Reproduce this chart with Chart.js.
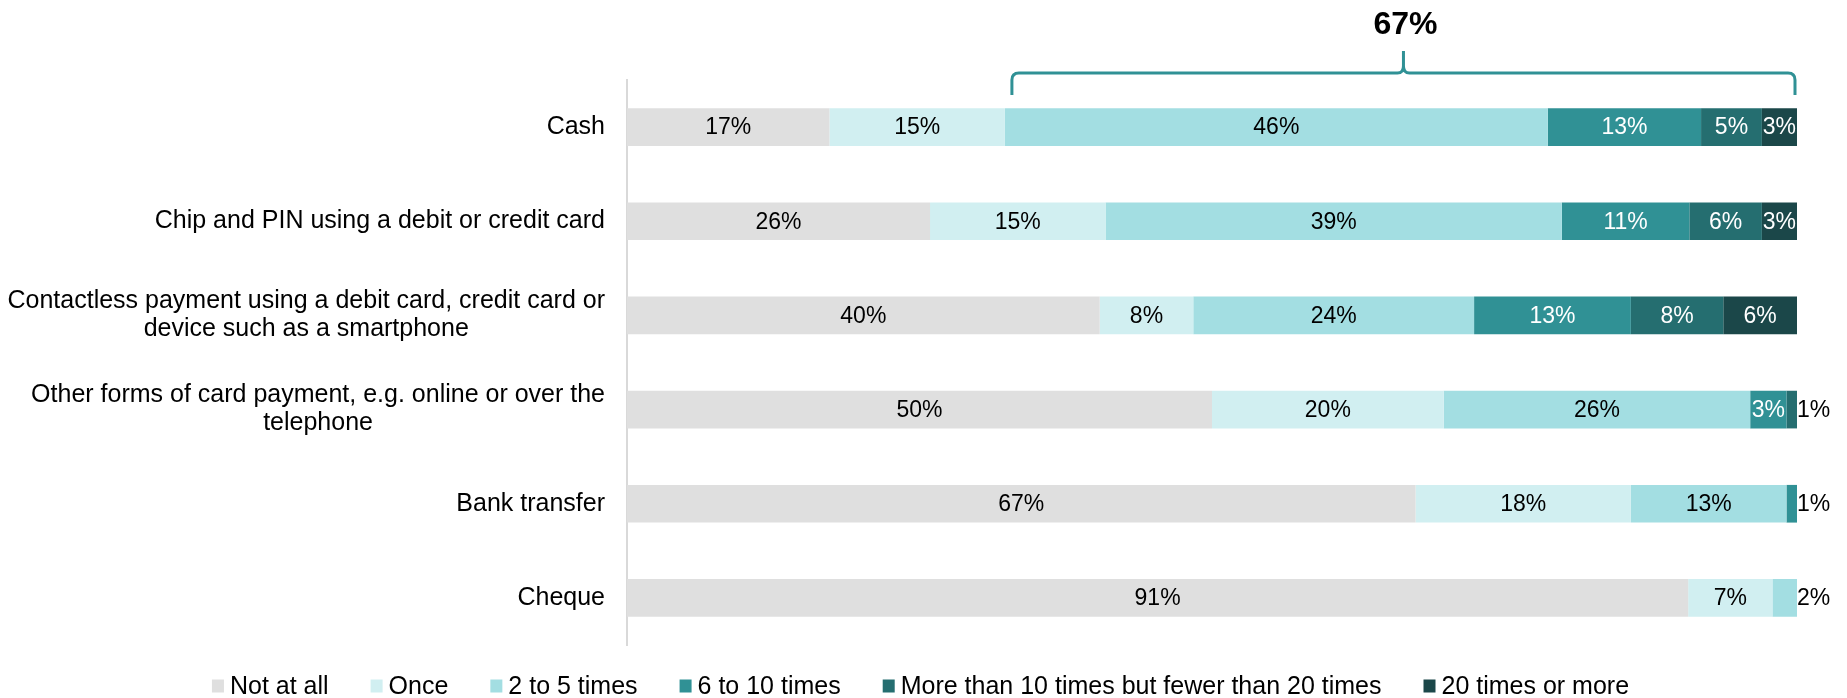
<!DOCTYPE html>
<html>
<head>
<meta charset="utf-8">
<script src="https://cdn.jsdelivr.net/npm/chart.js@4.4.1/dist/chart.umd.min.js"></script>
<style>
  body { margin: 0; background: #fff; }
  canvas { display: block; }
</style>
</head>
<body>
<canvas id="chart" width="1847" height="698"></canvas>
<script>
const FONT = '"Liberation Sans", Arial, sans-serif';

const categories = [
  ["Cash"],
  ["Chip and PIN using a debit or credit card"],
  ["Contactless payment using a debit card, credit card or", "device such as a smartphone"],
  ["Other forms of card payment, e.g. online or over the", "telephone"],
  ["Bank transfer"],
  ["Cheque"]
];

const seriesNames = [
  "Not at all",
  "Once",
  "2 to 5 times",
  "6 to 10 times",
  "More than 10 times but fewer than 20 times",
  "20 times or more"
];
const seriesColors = ["#dfdfdf", "#d1eff1", "#a3dee2", "#309195", "#256e70", "#1b4749"];

// values (each row adds up to 100)
const notAtAll    = [17.3, 25.9, 40.4, 50.0, 67.4, 90.7];
const once        = [15.0, 15.0,  8.0, 19.8, 18.4,  7.2];
const twoToFive   = [46.4, 39.0, 24.0, 26.2, 13.3,  2.1];
const sixToTen    = [13.1, 10.9, 13.4,  3.1,  0.9,  0];
const moreThanTen = [ 5.2,  6.2,  7.9,  0.9,  0,    0];
const twentyPlus  = [ 3.0,  3.0,  6.3,  0,    0,    0];

const series = [notAtAll, once, twoToFive, sixToTen, moreThanTen, twentyPlus];

// the bracket over the first row covers "2 to 5 times" and above
const bracketRow = 0;
const bracketFrom = 2;

function pct(v) {
  return Math.round(v) + "%";
}

const segmentLabels = {
  id: "segmentLabels",
  afterDatasetsDraw(chart) {
    const ctx = chart.ctx;
    ctx.save();
    ctx.font = "23px " + FONT;
    ctx.textBaseline = "middle";
    chart.data.datasets.forEach((ds, i) => {
      const meta = chart.getDatasetMeta(i);
      meta.data.forEach((bar, j) => {
        const v = ds.data[j];
        if (!v) return;
        const { x, base, y } = bar.getProps(["x", "base", "y"], true);
        const isLast = series.slice(i + 1).every((s) => !s[j]);
        if (isLast && v < 2.5) {
          ctx.fillStyle = "#000";
          ctx.textAlign = "left";
          ctx.fillText(pct(v), x, y + 1);
        } else {
          ctx.fillStyle = i >= 3 ? "#fff" : "#000";
          ctx.textAlign = "center";
          ctx.fillText(pct(v), (x + base) / 2, y + 1);
        }
      });
    });
    ctx.restore();
  }
};

const categoryLabels = {
  id: "categoryLabels",
  afterDraw(chart) {
    const ctx = chart.ctx;
    const yScale = chart.scales.y;
    const right = chart.chartArea.left - 22;
    const lineH = 28;
    ctx.save();
    ctx.font = "25px " + FONT;
    ctx.fillStyle = "#000";
    ctx.textAlign = "center";
    ctx.textBaseline = "middle";
    categories.forEach((lines, j) => {
      const w = Math.max(...lines.map((l) => ctx.measureText(l).width));
      const cx = right - w / 2;
      const cy = yScale.getPixelForValue(j);
      lines.forEach((l, k) => {
        ctx.fillText(l, cx, cy + (k - (lines.length - 1) / 2) * lineH);
      });
    });
    ctx.restore();
  }
};

const bracket = {
  id: "bracket",
  afterDraw(chart) {
    const ctx = chart.ctx;
    const xScale = chart.scales.x;
    let start = 0;
    for (let i = 0; i < bracketFrom; i++) start += series[i][bracketRow];
    let end = start;
    let labelSum = 0;
    for (let i = bracketFrom; i < series.length; i++) {
      end += series[i][bracketRow];
      labelSum += Math.round(series[i][bracketRow]);
    }
    const x1 = xScale.getPixelForValue(start) + 7;
    const x2 = xScale.getPixelForValue(end) - 2;
    const cx = (x1 + x2) / 2;
    const yLine = 73, yEnd = 95, yPeak = 51, r = 7;

    ctx.save();
    ctx.strokeStyle = "#309195";
    ctx.lineWidth = 3;
    ctx.lineJoin = "round";
    ctx.beginPath();
    ctx.moveTo(x1, yEnd);
    ctx.lineTo(x1, yLine + r);
    ctx.quadraticCurveTo(x1, yLine, x1 + r, yLine);
    ctx.lineTo(cx - 6, yLine);
    ctx.quadraticCurveTo(cx, yLine, cx, yLine - 7);
    ctx.lineTo(cx, yPeak);
    ctx.moveTo(cx, yLine - 7);
    ctx.quadraticCurveTo(cx, yLine, cx + 6, yLine);
    ctx.lineTo(x2 - r, yLine);
    ctx.quadraticCurveTo(x2, yLine, x2, yLine + r);
    ctx.lineTo(x2, yEnd);
    ctx.stroke();

    ctx.fillStyle = "#000";
    ctx.font = "bold 32px " + FONT;
    ctx.textAlign = "center";
    ctx.textBaseline = "middle";
    ctx.fillText(labelSum + "%", cx + 2, 25);
    ctx.restore();
  }
};

const bottomLegend = {
  id: "bottomLegend",
  afterDraw(chart) {
    const ctx = chart.ctx;
    const box = 12, boxH = 13, gap = 6, itemGap = 42, y = 686;
    ctx.save();
    ctx.font = "25px " + FONT;
    ctx.textBaseline = "middle";
    ctx.textAlign = "left";
    const widths = chart.data.datasets.map((ds) => box + gap + ctx.measureText(ds.label).width);
    const total = widths.reduce((a, b) => a + b, 0) + itemGap * (widths.length - 1);
    let x = (chart.width - total) / 2 - 3;
    chart.data.datasets.forEach((ds, i) => {
      ctx.fillStyle = ds.backgroundColor;
      ctx.fillRect(x, y - boxH / 2, box, boxH);
      ctx.fillStyle = "#000";
      ctx.fillText(ds.label, x + box + gap, y + 1);
      x += widths[i] + itemGap;
    });
    ctx.restore();
  }
};

new Chart(document.getElementById("chart"), {
  type: "bar",
  data: {
    labels: categories.map((c) => c.join(" ")),
    datasets: series.map((data, i) => ({
      label: seriesNames[i],
      data: data,
      backgroundColor: seriesColors[i],
      borderWidth: 0,
      barPercentage: 0.8,
      categoryPercentage: 0.5
    }))
  },
  options: {
    indexAxis: "y",
    responsive: false,
    devicePixelRatio: 1,
    animation: false,
    layout: { padding: { left: 627, right: 50, top: 80, bottom: 53 } },
    plugins: {
      legend: { display: false },
      tooltip: { enabled: false }
    },
    scales: {
      x: {
        stacked: true,
        min: 0,
        max: 100,
        display: false
      },
      y: {
        stacked: true,
        ticks: { display: false },
        grid: { display: false, drawTicks: false },
        border: { display: true, color: "#d9d9d9", width: 2 }
      }
    }
  },
  plugins: [segmentLabels, categoryLabels, bracket, bottomLegend]
});
</script>
</body>
</html>
